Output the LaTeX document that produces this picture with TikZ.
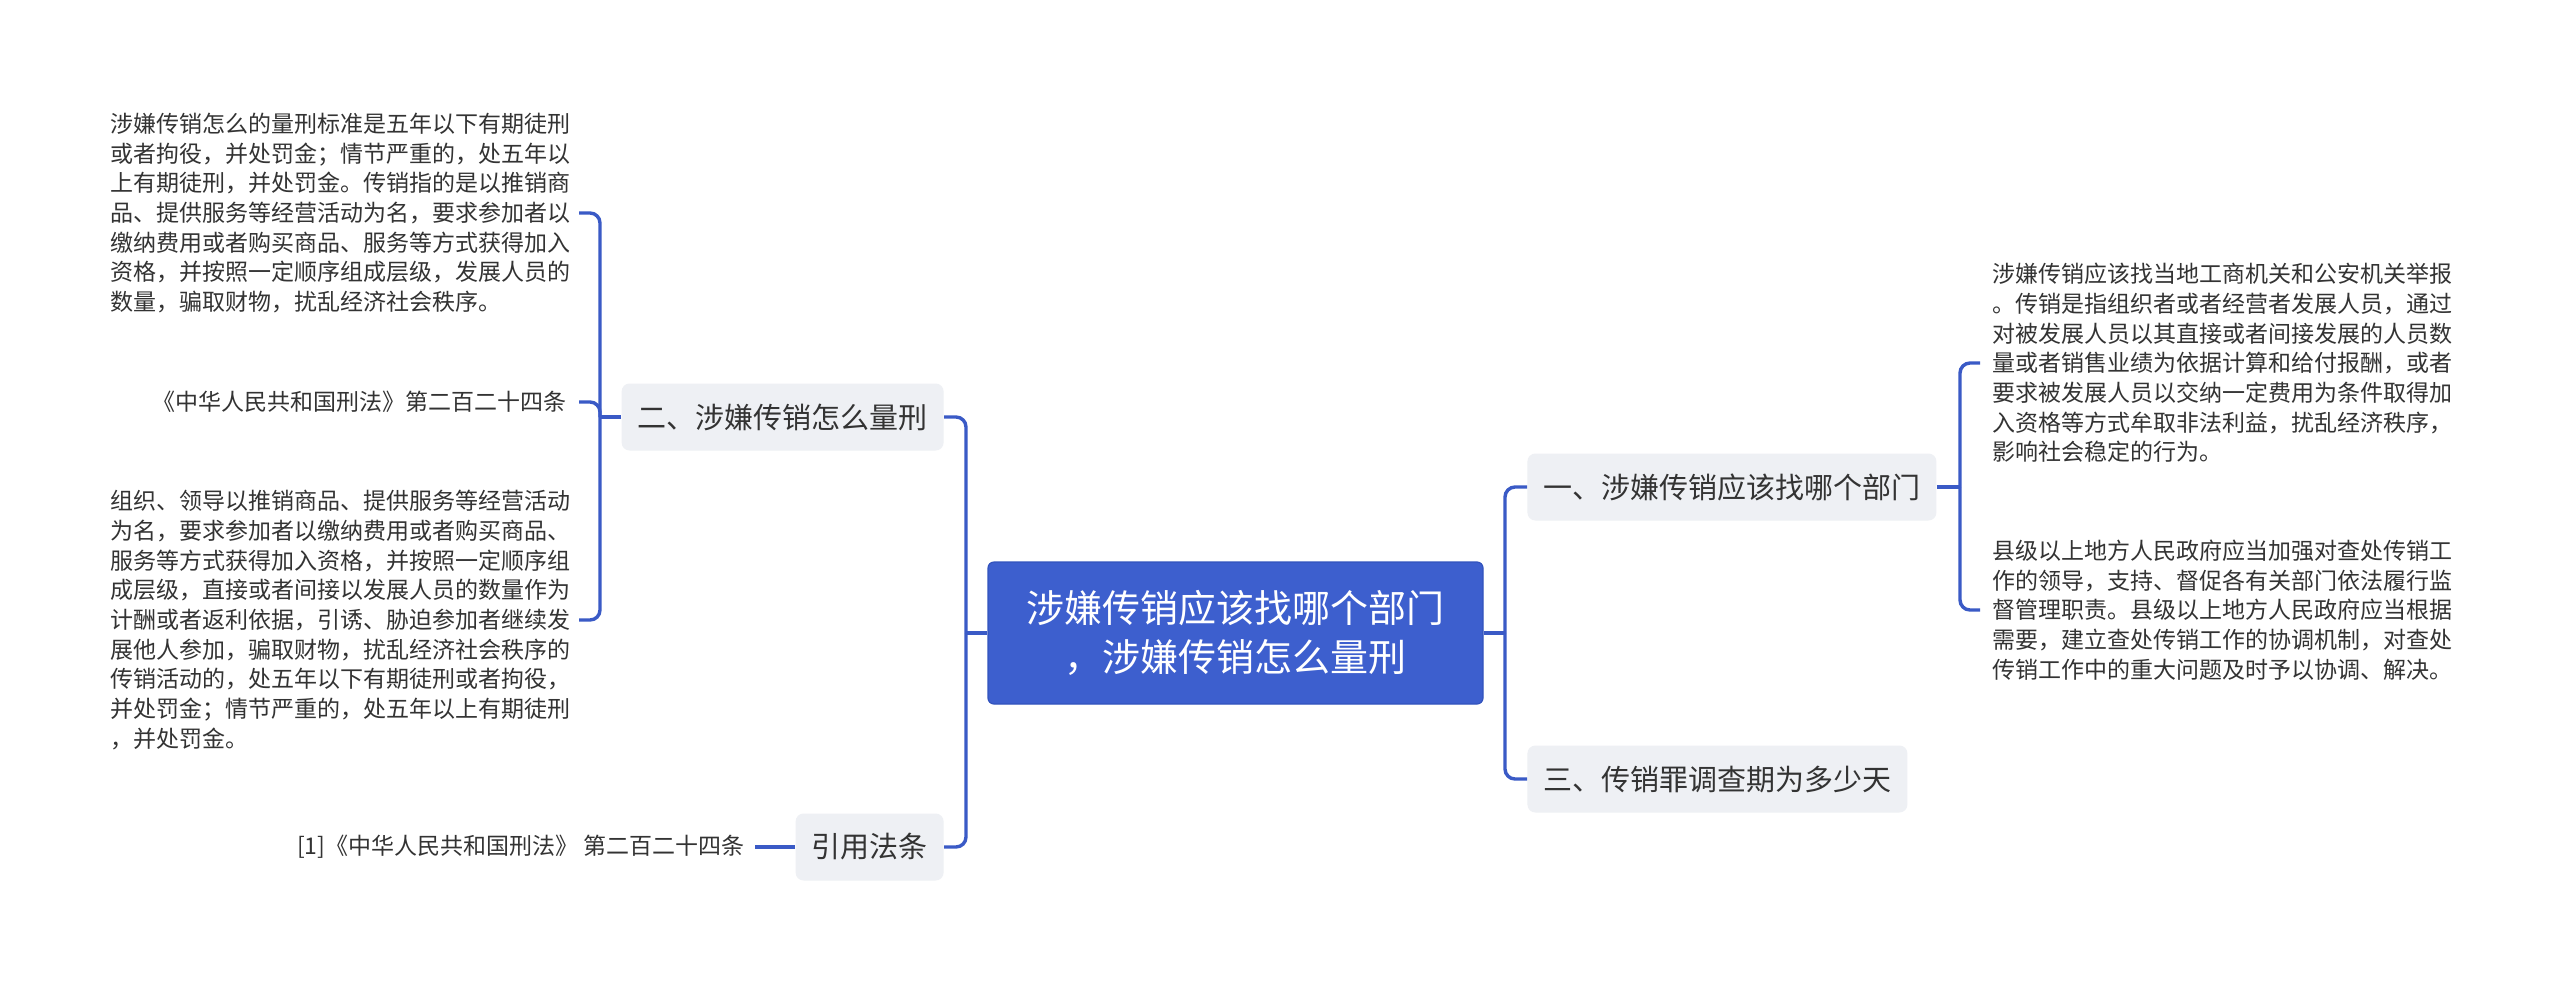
\documentclass[tikz,border=0pt]{standalone}
\usepackage{fontspec}
\newfontfamily\cjk{Noto Sans CJK SC}
\definecolor{linkblue}{HTML}{3A5AC6}
\definecolor{rootfill}{HTML}{3D5FCE}
\definecolor{rootdraw}{HTML}{3253BD}
\definecolor{subfill}{HTML}{EEF0F4}
\definecolor{txt}{HTML}{333333}
\begin{document}
\begin{tikzpicture}[x=0.5pt,y=-0.5pt,
  rootbox/.style={fill=rootfill, draw=rootdraw, line width=0.6pt, rounded corners=3pt,
    text=white, font=\cjk\fontsize{19}{24.5}\selectfont, align=center,
    minimum width=247.5pt, minimum height=71pt, inner sep=0pt},
  subbox/.style={fill=subfill, rounded corners=4pt, text=txt,
    font=\cjk\fontsize{14.5}{17}\selectfont, inner xsep=8pt, inner ysep=0pt,
    minimum height=33.5pt},
  leaf/.style={text=txt, font=\cjk\fontsize{11.5}{14.85}\selectfont, align=left, inner ysep=0pt},
  conn/.style={draw=linkblue, line width=1.7pt, rounded corners=5pt}]
\useasboundingbox[fill=white] (0,0) rectangle (2560,981);

% root and first level
\node[rootbox] (root) at (1235.5,633) {涉嫌传销应该找哪个部门\\，涉嫌传销怎么量刑};
\node[subbox, anchor=east] (n2) at (944,417) {二、涉嫌传销怎么量刑};
\node[subbox, anchor=east] (n4) at (944,847) {引用法条};
\node[subbox, anchor=west] (n1) at (1527,487) {一、涉嫌传销应该找哪个部门};
\node[subbox, anchor=west] (n3) at (1527,779) {三、传销罪调查期为多少天};

% leaves left
\node[leaf, anchor=east, inner xsep=4pt] (t1) at (579,213) {涉嫌传销怎么的量刑标准是五年以下有期徒刑\\或者拘役，并处罚金；情节严重的，处五年以\\上有期徒刑，并处罚金。传销指的是以推销商\\品、提供服务等经营活动为名，要求参加者以\\缴纳费用或者购买商品、服务等方式获得加入\\资格，并按照一定顺序组成层级，发展人员的\\数量，骗取财物，扰乱经济社会秩序。};
\node[leaf, anchor=east, inner xsep=6pt] (t2) at (579,402) {《中华人民共和国刑法》第二百二十四条};
\node[leaf, anchor=east, inner xsep=4pt] (t3) at (579,620) {组织、领导以推销商品、提供服务等经营活动\\为名，要求参加者以缴纳费用或者购买商品、\\服务等方式获得加入资格，并按照一定顺序组\\成层级，直接或者间接以发展人员的数量作为\\计酬或者返利依据，引诱、胁迫参加者继续发\\展他人参加，骗取财物，扰乱经济社会秩序的\\传销活动的，处五年以下有期徒刑或者拘役，\\并处罚金；情节严重的，处五年以上有期徒刑\\，并处罚金。};
\node[leaf, anchor=east, inner xsep=5pt] (t4) at (755,847) {[1]《中华人民共和国刑法》 第二百二十四条};

% leaves right
\node[leaf, anchor=west, inner xsep=6pt] (r1) at (1980,363) {涉嫌传销应该找当地工商机关和公安机关举报\\。传销是指组织者或者经营者发展人员，通过\\对被发展人员以其直接或者间接发展的人员数\\量或者销售业绩为依据计算和给付报酬，或者\\要求被发展人员以交纳一定费用为条件取得加\\入资格等方式牟取非法利益，扰乱经济秩序，\\影响社会稳定的行为。};
\node[leaf, anchor=west, inner xsep=6pt] (r2) at (1980,610) {县级以上地方人民政府应当加强对查处传销工\\作的领导，支持、督促各有关部门依法履行监\\督管理职责。县级以上地方人民政府应当根据\\需要，建立查处传销工作的协调机制，对查处\\传销工作中的重大问题及时予以协调、解决。};

% junctions
\coordinate (jl) at (966,633);
\coordinate (jr) at (1505,633);
\coordinate (jb) at (600,417);
\coordinate (jn) at (1960,487);

% connectors
\draw[conn] (root.west) -- (jl);
\draw[conn] (jl) |- (n2.east);
\draw[conn] (jl) |- (n4.east);
\draw[conn] (root.east) -- (jr);
\draw[conn] (jr) |- (n1.west);
\draw[conn] (jr) |- (n3.west);
\draw[conn] (n2.west) -- (jb);
\draw[conn] (jb) |- (t1.east);
\draw[conn] (jb) |- (t2.east);
\draw[conn] (jb) |- (t3.east);
\draw[conn] (t4.east) -- (n4.west);
\draw[conn] (n1.east) -- (jn);
\draw[conn] (jn) |- (r1.west);
\draw[conn] (jn) |- (r2.west);
\end{tikzpicture}
\end{document}
